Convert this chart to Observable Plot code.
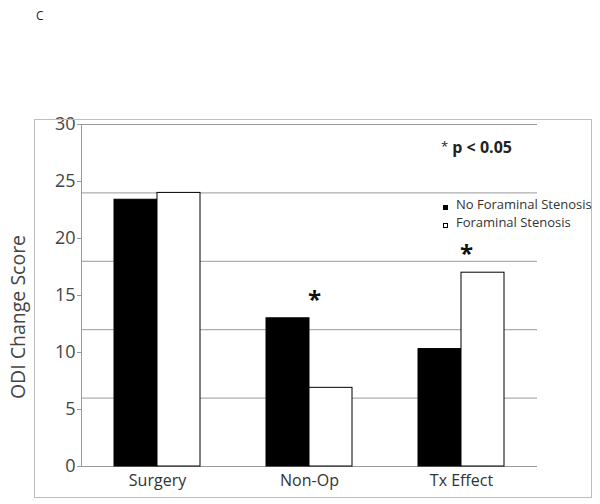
<!DOCTYPE html>
<html>
<head>
<meta charset="utf-8">
<script src="https://cdn.jsdelivr.net/npm/d3@7"></script>
<script src="https://cdn.jsdelivr.net/npm/@observablehq/plot@0.6"></script>
<style>
  body { margin: 0; background: #fff; font-family: "Open Sans", sans-serif; }
  #wrap { position: relative; width: 600px; height: 504px; overflow: hidden; }
  #wrap svg { position: absolute; left: 0; top: 0; }
  .abs { position: absolute; white-space: nowrap; line-height: 1; }
</style>
</head>
<body>
<div id="wrap"></div>
<script>
const categories = ["Surgery", "Non-Op", "Tx Effect"];
const series = ["No Foraminal Stenosis", "Foraminal Stenosis"];
const noStenosis = [23.4, 13.0, 10.3];
const stenosis = [24.0, 6.9, 17.0];
const yTicks = [0, 5, 10, 15, 20, 25, 30];
const gridTicks = [0, 6, 12, 18, 24, 30];
const significant = ["Non-Op", "Tx Effect"];
const yLabel = "ODI Change Score";
const panelLabel = "C";
const sigNote = "p < 0.05";

const data = [];
categories.forEach((c, i) => {
  data.push({category: c, group: series[0], value: noStenosis[i]});
  data.push({category: c, group: series[1], value: stenosis[i]});
});
const stars = significant.map(c => {
  const i = categories.indexOf(c);
  return {category: c, top: Math.max(noStenosis[i], stenosis[i])};
});

const chart = Plot.plot({
  width: 600,
  height: 504,
  marginTop: 124,
  marginBottom: 38,
  marginLeft: 80,
  marginRight: 62,
  style: {fontFamily: "Open Sans, sans-serif", background: "transparent"},
  fx: {domain: categories, padding: 0, label: null},
  x: {domain: series, paddingInner: 0, paddingOuter: 0.755, axis: null},
  y: {domain: [0, 30], label: null},
  color: {domain: series, range: ["#000000", "#ffffff"]},
  marks: [
    Plot.gridY(gridTicks, {stroke: "#9a9a9a", strokeOpacity: 1, strokeWidth: 1}),
    Plot.barY(data, {fx: "category", x: "group", y: "value", fill: "group", stroke: "#000", strokeWidth: 1}),
    Plot.frame({anchor: "left", stroke: "#9a9a9a", facetAnchor: "left"}),
    Plot.axisY({
      ticks: yTicks, tickSize: 4, tickPadding: 2, fontSize: 18, color: "#444",
      stroke: "#999", label: null
    }),
    Plot.axisFx({anchor: "bottom", tickSize: 0, tickPadding: 8, fontSize: 16, color: "#333", label: null}),
    Plot.text(stars, {fx: "category", y: "top", text: () => "*", fontSize: 24, fontWeight: "bold", fill: "#111", dy: -18, dx: 5})
  ]
});

const wrap = document.getElementById("wrap");
wrap.appendChild(chart);

function addDiv(html, style) {
  const d = document.createElement("div");
  d.className = "abs";
  d.innerHTML = html;
  Object.assign(d.style, style);
  wrap.appendChild(d);
  return d;
}
// outer frame of the figure
addDiv("", {left: "34px", top: "119px", width: "556px", height: "377px", border: "1px solid #bdbdbd"});
// y-axis title
addDiv(yLabel, {left: "18px", top: "317px", fontSize: "19.5px", color: "#444",
  transform: "translate(-50%, -50%) rotate(-90deg)"});
// panel letter
addDiv(panelLabel, {left: "36px", top: "10px", fontSize: "12px", color: "#222"});
// significance note
addDiv('<span style="font-weight:normal;font-size:13px;position:relative;top:-2px">*</span> <b>' + sigNote.replace("<", "&lt;") + '</b>',
  {left: "441px", top: "139px", fontSize: "16px", color: "#222"});
// legend
const legendTops = [197, 215];
series.forEach((s, i) => {
  addDiv("", {left: "443px", top: (legendTops[i] + 8) + "px", width: "5px", height: "5px",
    boxSizing: "border-box", background: i === 0 ? "#000" : "#fff", border: "1px solid #000"});
  addDiv(s, {left: "456px", top: (legendTops[i] + 1) + "px", fontSize: "13px", color: "#333"});
});
</script>
</body>
</html>
